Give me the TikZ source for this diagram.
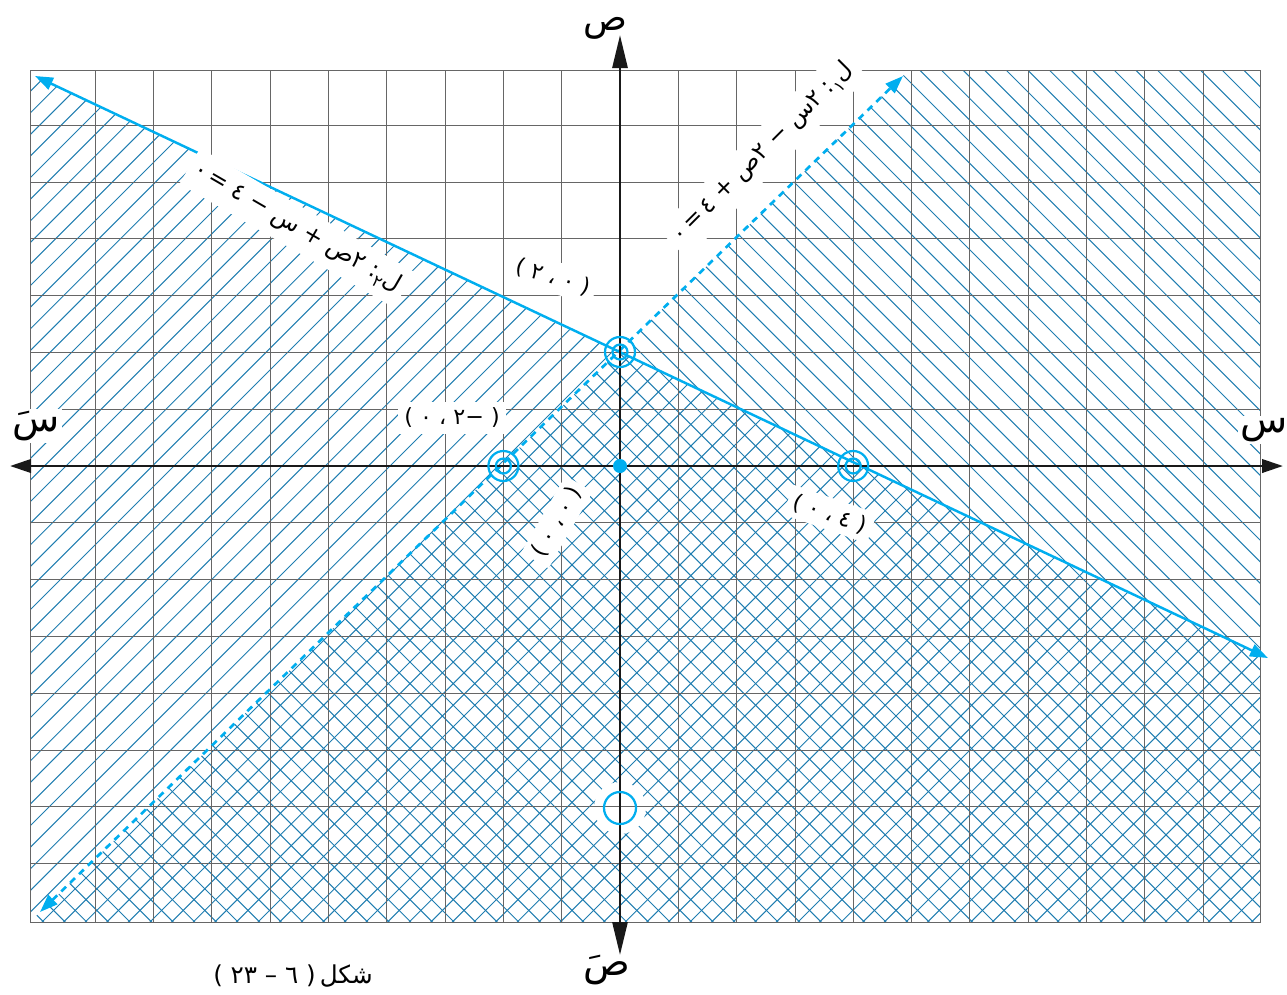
\documentclass[tikz,border=0pt]{standalone}
\usepackage{fontspec}
\usetikzlibrary{arrows.meta}
\TeXXeTstate=1
\newfontfamily\ar[Script=Arabic]{DejaVu Sans}
\newfontfamily\djv{DejaVu Sans}
\definecolor{cyanl}{HTML}{00AEEF}
\definecolor{hatchc}{HTML}{1F7DB0}
\newcommand\g[1]{\hbox{#1}}
\newcommand\lp{\hbox{\djv (}}
\newcommand\rp{\hbox{\djv )}}
\newcommand\sbx[1]{\raisebox{-6pt}{\fontsize{14}{14}\selectfont #1}}
\tikzset{
 hatch/.style={draw=hatchc, line width=0.85pt},
 gridline/.style={draw=black!60, line width=0.7pt},
 axis/.style={draw=black!90, line width=2.4pt},
 cyanline/.style={draw=cyanl, line width=1.9pt},
 eqlab/.style={fill=white, inner xsep=5pt, inner ysep=7pt, font=\ar\fontsize{20}{24}\selectfont},
 ptlab/.style={fill=white, inner sep=5pt, font=\ar\fontsize{19}{22}\selectfont},
 axlab/.style={inner sep=2pt, font=\ar\fontsize{33}{38}\selectfont},
 caplab/.style={inner sep=2pt, font=\ar\fontsize{21}{24}\selectfont},
}
\begin{document}
\begin{tikzpicture}[x=0.03cm,y=0.03cm]
\path[use as bounding box] (0,0) rectangle (1287,-994);
% key points (pixel frame)
\coordinate (O) at (620,-466);
\coordinate (A) at (620,-352);
\coordinate (B) at (503.4,-466);
\coordinate (C) at (853.2,-466);
\coordinate (D) at (620,-808);
\coordinate (L2a) at (35,-76);
\coordinate (L2b) at (1268,-658);
\coordinate (L1a) at (40,-912);
\coordinate (L1b) at (903,-76);
\coordinate (xl) at (10,-466);
\coordinate (xr) at (1283,-466);
\coordinate (yt) at (620,-35);
\coordinate (yb) at (620,-955);
% hatching below L2
\begin{scope}
\clip (30,-73.6) -- (1260,-654.2) -- (1260,-922) -- (30,-922) -- cycle;
\foreach \s in {-900,-878.4,...,1200} \draw[hatch] (\s,-1000) -- ++(1000,1000);
\end{scope}
% hatching right of L1
\begin{scope}
\clip (30,-922) -- (909,-70) -- (1260,-70) -- (1260,-922) -- cycle;
\foreach \s in {-900,-878.4,...,1200} \draw[hatch] (\s,0) -- ++(1000,-1000);
\end{scope}
\fill[white] (D) circle[radius=26];
% grid
\foreach \k in {-9,...,10} \draw[gridline] ({620+58.3*\k},-70) -- ({620+58.3*\k},-922);
\foreach \k in {-7,...,6} \draw[gridline] (30,{-466+56.8*\k}) -- (1260,{-466+56.8*\k});
\draw[gridline] (30,-70) rectangle (1260,-922);
% the two lines
\draw[cyanline, line width=2.3pt, dash pattern=on 0.2cm off 0.17cm, {Triangle[length=0.54cm,width=0.38cm]}-{Triangle[length=0.54cm,width=0.38cm]}] (L1a) -- (L1b);
\draw[cyanline, line width=2.1pt, {Triangle[length=0.54cm,width=0.38cm]}-{Triangle[length=0.54cm,width=0.38cm]}] (L2a) -- (L2b);
% equation labels
\node[eqlab, rotate=-30] (eq2) at (297,-228) {\g{٠}\,\g{=}\ \g{٤}\ \g{−}\ \g{س}\ \g{+}\ \g{ص}\g{٢}\ \g{:}\g{\sbx{٢}}\g{ل}};
\node[eqlab, rotate=45] (eq1) at (763,-153) {\g{٠}\,\g{=}\,\g{٤}\ \g{+}\ \g{ص}\g{٢}\ \g{−}\ \g{س}\g{٢}\ \g{:}\g{\sbx{١}}\g{ل}};
% point labels
\node[ptlab, rotate=-17] (pA) at (553,-277) {\lp\ \g{٢}\ \g{،}\ \g{٠}\ \rp};
\node[ptlab] (pB) at (452,-418) {\lp\ \g{٠}\ \g{،}\ \g{٢}\g{−}\ \rp};
\node[ptlab, rotate=60] (pO) at (557,-522) {\lp\ \g{٠}\ \g{،}\ \g{٠}\ \rp};
\node[ptlab, rotate=-19] (pC) at (830,-514) {\lp\ \g{٠}\ \g{،}\ \g{٤}\ \rp};
% axes
\draw[axis, {Triangle[length=0.63cm,width=0.4cm]}-{Triangle[length=0.63cm,width=0.4cm]}] (xl) -- (xr);
\draw[axis, {Triangle[length=0.99cm,width=0.45cm]}-{Triangle[length=0.99cm,width=0.45cm]}] (yb) -- (yt);
% marked points
\foreach \p in {A,B,C} {
  \draw[cyanline] (\p) circle[radius=15];
  \draw[cyanline] (\p) circle[radius=7.5];
}
\fill[cyanl] (O) circle[radius=7];
\draw[cyanline] (D) circle[radius=16];
% axis labels
\node[axlab, font=\ar\fontsize{31}{36}\selectfont, inner sep=0pt, text height=12pt, text depth=6pt] (ly) at (605,-27) {ص};
\node[axlab, fill=white] (lx) at (1264,-430) {س};
\node[axlab, fill=white] (lx2) at (36,-426) {سَ};
\node[axlab] (ly2) at (607,-970) {صَ};
% caption
\node[caplab] (cap) at (293,-976) {\lp\ \g{٢}\g{٣}\ \g{–}\ \g{٦}\ \rp\,{\beginR شكل\endR}};
\end{tikzpicture}
\end{document}
